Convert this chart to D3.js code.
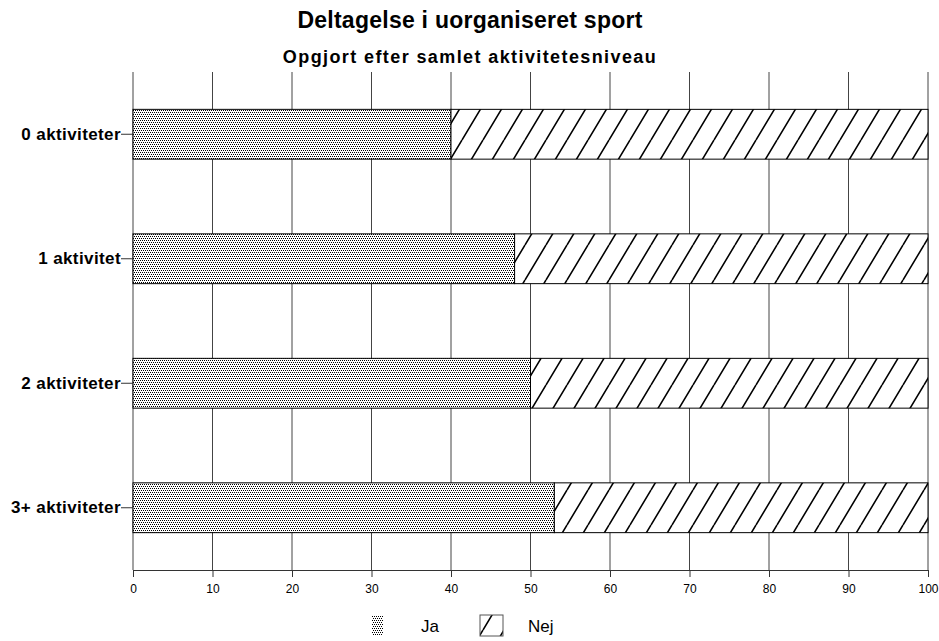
<!DOCTYPE html>
<html>
<head>
<meta charset="utf-8">
<script src="https://cdn.jsdelivr.net/npm/d3@7"></script>
<style>
  html, body { margin: 0; padding: 0; background: #fff; }
  svg { display: block; font-family: Arial, "Liberation Sans", sans-serif; }
</style>
</head>
<body>
<svg id="chart" width="939" height="641"></svg>
<script>
// Andel der deltager i uorganiseret sport, efter antal aktiviteter (procent)
const categories = ["0 aktiviteter", "1 aktivitet", "2 aktiviteter", "3+ aktiviteter"];
const jaValues = [40, 48, 50, 53];
const nejValues = [60, 52, 50, 47];
const seriesNames = ["Ja", "Nej"];
const xTicks = [0, 10, 20, 30, 40, 50, 60, 70, 80, 90, 100];

const svg = d3.select("#chart");
const margin = { left: 133, right: 11, top: 72, bottom: 71 };
const W = 939, H = 641;

const x = d3.scaleLinear().domain([0, 100]).range([margin.left, W - margin.right]);
const y = d3.scaleBand().domain(categories).range([margin.top, H - margin.bottom]).paddingInner(0.6).paddingOuter(0.3);

// Fill patterns: stipple for "Ja", diagonal hatch for "Nej"
const defs = svg.append("defs");
const dots = defs.append("pattern").attr("id", "dots").attr("patternUnits", "userSpaceOnUse")
  .attr("width", 4).attr("height", 4);
dots.append("rect").attr("width", 4).attr("height", 4).attr("fill", "#fff");
[[0, 0], [2, 0], [1, 2], [3, 2]].forEach(([px, py]) =>
  dots.append("rect").attr("x", px).attr("y", py).attr("width", 1).attr("height", 1).attr("fill", "#000"));

const hw = 21, hh = 35;
const hatch = defs.append("pattern").attr("id", "hatch").attr("patternUnits", "userSpaceOnUse")
  .attr("width", hw).attr("height", hh);
hatch.append("rect").attr("width", hw).attr("height", hh).attr("fill", "#fff");
hatch.append("path")
  .attr("d", `M${-hw},${hh} L0,0 M0,${hh} L${hw},0 M${hw},${hh} L${2 * hw},0`)
  .attr("stroke", "#000").attr("stroke-width", 1.6);

// Vertical gridlines
svg.append("g").selectAll("line").data(xTicks).join("line")
  .attr("x1", d => x(d)).attr("x2", d => x(d))
  .attr("y1", margin.top).attr("y2", H - margin.bottom)
  .attr("stroke", "#444").attr("stroke-width", 1);

// Bars
const rows = categories.map((c, i) => ({ cat: c, ja: jaValues[i], nej: nejValues[i] }));
const g = svg.append("g");
g.selectAll("rect.ja").data(rows).join("rect").attr("class", "ja")
  .attr("x", x(0)).attr("y", d => y(d.cat))
  .attr("width", d => x(d.ja) - x(0)).attr("height", y.bandwidth())
  .attr("fill", "url(#dots)").attr("stroke", "#000").attr("stroke-width", 1);
g.selectAll("rect.nej").data(rows).join("rect").attr("class", "nej")
  .attr("x", d => x(d.ja)).attr("y", d => y(d.cat))
  .attr("width", d => x(d.ja + d.nej) - x(d.ja)).attr("height", y.bandwidth())
  .attr("fill", "url(#hatch)").attr("stroke", "#000").attr("stroke-width", 1);

// Bottom axis
const xAxis = svg.append("g").attr("transform", `translate(0,${H - margin.bottom})`)
  .call(d3.axisBottom(x).tickValues(xTicks).tickSize(7).tickSizeOuter(0));
xAxis.select(".domain").attr("stroke", "#333");
xAxis.selectAll(".tick line").attr("stroke", "#333");
xAxis.selectAll("text").attr("font-size", 12).attr("font-family", "Arial, 'Liberation Sans', sans-serif")
  .attr("fill", "#000").attr("dy", "1.1em");

// Left category axis
const yAxis = svg.append("g").attr("transform", `translate(${margin.left},0)`)
  .call(d3.axisLeft(y).tickSize(12).tickPadding(0));
yAxis.select(".domain").remove();
yAxis.selectAll(".tick line").attr("stroke", "#333");
yAxis.selectAll("text").attr("font-size", 17).attr("font-weight", "bold").attr("letter-spacing", 0.4)
  .attr("font-family", "Arial, 'Liberation Sans', sans-serif").attr("fill", "#000");

// Titles
svg.append("text").attr("x", 470).attr("y", 28).attr("text-anchor", "middle")
  .attr("font-size", 23).attr("font-weight", "bold").attr("letter-spacing", 0.25)
  .text("Deltagelse i uorganiseret sport");
svg.append("text").attr("x", 470).attr("y", 63).attr("text-anchor", "middle")
  .attr("font-size", 18).attr("font-weight", "bold").attr("letter-spacing", 1.4)
  .text("Opgjort efter samlet aktivitetesniveau");

// Legend
const legend = svg.append("g");
const items = [
  { name: seriesNames[0], fill: "url(#dots)", sx: 372, sw: 11, tx: 421, border: false },
  { name: seriesNames[1], fill: "url(#hatch)", sx: 480, sw: 23, tx: 528, border: true }
];
items.forEach(it => {
  legend.append("rect").attr("x", it.sx).attr("y", 615).attr("width", it.sw).attr("height", 21)
    .attr("fill", it.fill).attr("stroke", it.border ? "#555" : "none");
  legend.append("text").attr("x", it.tx).attr("y", 632).attr("font-size", 17).text(it.name);
});
</script>
</body>
</html>
